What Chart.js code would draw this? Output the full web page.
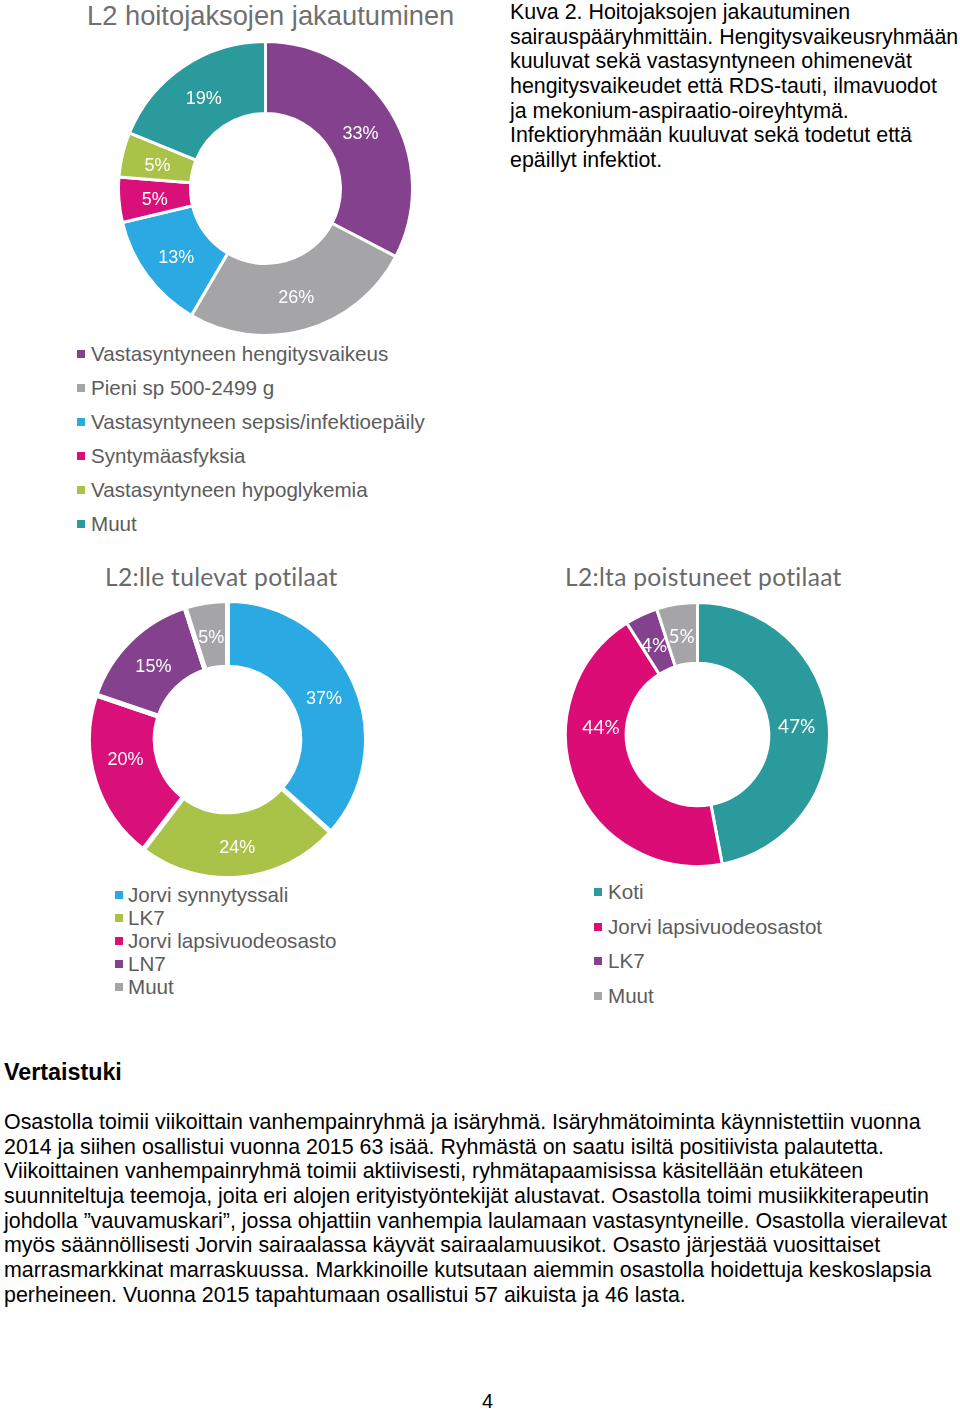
<!DOCTYPE html>
<html>
<head>
<meta charset="utf-8">
<script src="https://cdn.jsdelivr.net/npm/chart.js@4.4.1/dist/chart.umd.min.js"></script>
<style>
  html,body{margin:0;padding:0;background:#fff;}
  body{width:960px;height:1410px;position:relative;overflow:hidden;font-family:"Liberation Sans",Arial,sans-serif;}
  .abs{position:absolute;white-space:nowrap;}
  .title1{font-family:"Liberation Sans",Arial,sans-serif;font-size:27.3px;color:#707070;}
  .title2{font-family:"Lato","Open Sans",sans-serif;font-size:24.6px;color:#6a6a6a;letter-spacing:0.3px;}
  .legend{font-size:20.6px;color:#5c5c5c;}
  .legend .row{position:absolute;white-space:nowrap;}
  .legend .sq{position:absolute;width:8px;height:8px;}
  .body{font-size:21.4px;color:#000;line-height:24.65px;}
  canvas{position:absolute;}
</style>
</head>
<body>
<script>
// ---- Data ----
const chart1Title = "L2 hoitojaksojen jakautuminen";
const chart1Labels = ["Vastasyntyneen hengitysvaikeus","Pieni sp 500-2499 g","Vastasyntyneen sepsis/infektioepäily","Syntymäasfyksia","Vastasyntyneen hypoglykemia","Muut"];
const chart1Values = [33, 26, 13, 5, 5, 19];

const chart2Title = "L2:lle tulevat potilaat";
const chart2Labels = ["Jorvi synnytyssali","LK7","Jorvi lapsivuodeosasto","LN7","Muut"];
const chart2Values = [37, 24, 20, 15, 5];

const chart3Title = "L2:lta poistuneet potilaat";
const chart3Labels = ["Koti","Jorvi lapsivuodeosastot","LK7","Muut"];
const chart3Values = [47, 44, 4, 5];

// ---- Styles ----
const PURPLE = "#84418d", GRAY = "#a5a5a8", BLUE = "#2aa9e2", MAGENTA = "#d9107a", GREEN = "#a9c348", TEAL = "#2a9a9c";
const chart1Colors = [PURPLE, GRAY, BLUE, MAGENTA, GREEN, TEAL];
const chart2Colors = [BLUE, GREEN, MAGENTA, PURPLE, GRAY];
const chart3Colors = [TEAL, "#dc0c77", PURPLE, GRAY];

function addText(html, cls, left, top, extraStyle) {
  const d = document.createElement('div');
  d.className = 'abs ' + cls;
  d.style.left = left + 'px';
  d.style.top = top + 'px';
  if (extraStyle) d.style.cssText += extraStyle;
  d.innerHTML = html;
  document.body.appendChild(d);
  return d;
}

function addLegend(labels, colors, sqX, txtX, centers) {
  const wrap = document.createElement('div');
  wrap.className = 'legend';
  labels.forEach((lab, i) => {
    const sq = document.createElement('div');
    sq.className = 'sq';
    sq.style.left = sqX + 'px';
    sq.style.top = (centers[i] - 4) + 'px';
    sq.style.background = colors[i];
    wrap.appendChild(sq);
    const t = document.createElement('div');
    t.className = 'row';
    t.style.left = txtX + 'px';
    t.style.top = (centers[i] - 12) + 'px';
    t.style.lineHeight = '24px';
    t.textContent = lab;
    wrap.appendChild(t);
  });
  document.body.appendChild(wrap);
}

const pctLabels = {
  id: 'pctLabels',
  afterDatasetsDraw(chart, args, opts) {
    const ctx = chart.ctx;
    const ds = chart.data.datasets[0];
    const meta = chart.getDatasetMeta(0);
    const shifts = opts.shifts || {};
    ctx.save();
    ctx.fillStyle = '#ffffff';
    ctx.font = opts.font;
    ctx.textAlign = 'center';
    ctx.textBaseline = 'middle';
    meta.data.forEach((arc, i) => {
      const p = arc.tooltipPosition();
      const s = shifts[i] || [0, 0];
      ctx.fillText(ds.data[i] + '%', p.x + s[0], p.y + 3 + s[1]);
    });
    ctx.restore();
  }
};

function makeDonut(cx, cy, R, cutout, labels, values, colors, borderW, font, shifts) {
  const size = Math.round(2 * R + borderW);
  const c = document.createElement('canvas');
  c.width = size; c.height = size;
  c.style.width = size + 'px'; c.style.height = size + 'px';
  c.style.left = (cx - size / 2) + 'px';
  c.style.top = (cy - size / 2) + 'px';
  document.body.appendChild(c);
  new Chart(c, {
    type: 'doughnut',
    data: { labels: labels, datasets: [{ data: values, backgroundColor: colors, borderColor: '#ffffff', borderWidth: borderW, borderAlign: 'center' }] },
    options: {
      responsive: false, animation: false, cutout: cutout,
      layout: { padding: 0 },
      plugins: { legend: { display: false }, tooltip: { enabled: false }, title: { display: false }, pctLabels: { font: font, shifts: shifts } }
    },
    plugins: [pctLabels]
  });
}

// Chart 1
addText(chart1Title, 'title1', 87, 0);
makeDonut(265, 188, 147, '51%', chart1Labels, chart1Values, chart1Colors, 3, '18px "Liberation Sans", Arial, sans-serif');
addLegend(chart1Labels, chart1Colors, 77, 91, [354, 388, 422, 456, 490, 524]);

// Chart 2
addText(chart2Title, 'title2', 105, 562);
makeDonut(227, 739, 139, '52%', chart2Labels, chart2Values, chart2Colors, 5, '18px "Liberation Sans", Arial, sans-serif', {2: [-1, -13]});
addLegend(chart2Labels, chart2Colors, 115, 128, [895, 918, 941, 964, 987]);

// Chart 3
addText(chart3Title, 'title2', 565, 562);
makeDonut(697, 734, 132, '54%', chart3Labels, chart3Values, chart3Colors, 3, '19px "Lato", "Open Sans", sans-serif', {1: [-2, -47], 0: [-2, -1]});
addLegend(chart3Labels, chart3Colors, 594, 608, [892, 927, 961, 996]);

// Caption text
addText("Kuva 2. Hoitojaksojen jakautuminen<br>sairauspääryhmittäin. Hengitysvaikeusryhmään<br>kuuluvat sekä vastasyntyneen ohimenevät<br>hengitysvaikeudet että RDS-tauti, ilmavuodot<br>ja mekonium-aspiraatio-oireyhtymä.<br>Infektioryhmään kuuluvat sekä todetut että<br>epäillyt infektiot.", 'body', 510, 0);

addText("Vertaistuki", '', 4, 1059, 'font-size:23.3px;font-weight:bold;color:#000;');

addText("Osastolla toimii viikoittain vanhempainryhmä ja isäryhmä. Isäryhmätoiminta käynnistettiin vuonna<br>2014 ja siihen osallistui vuonna 2015 63 isää. Ryhmästä on saatu isiltä positiivista palautetta.<br>Viikoittainen vanhempainryhmä toimii aktiivisesti, ryhmätapaamisissa käsitellään etukäteen<br>suunniteltuja teemoja, joita eri alojen erityistyöntekijät alustavat. Osastolla toimi musiikkiterapeutin<br>johdolla ”vauvamuskari”, jossa ohjattiin vanhempia laulamaan vastasyntyneille. Osastolla vierailevat<br>myös säännöllisesti Jorvin sairaalassa käyvät sairaalamuusikot. Osasto järjestää vuosittaiset<br>marrasmarkkinat marraskuussa. Markkinoille kutsutaan aiemmin osastolla hoidettuja keskoslapsia<br>perheineen. Vuonna 2015 tapahtumaan osallistui 57 aikuista ja 46 lasta.", 'body', 4, 1110);

addText("4", '', 482, 1390, 'font-size:20px;color:#000;');
</script>
</body>
</html>
